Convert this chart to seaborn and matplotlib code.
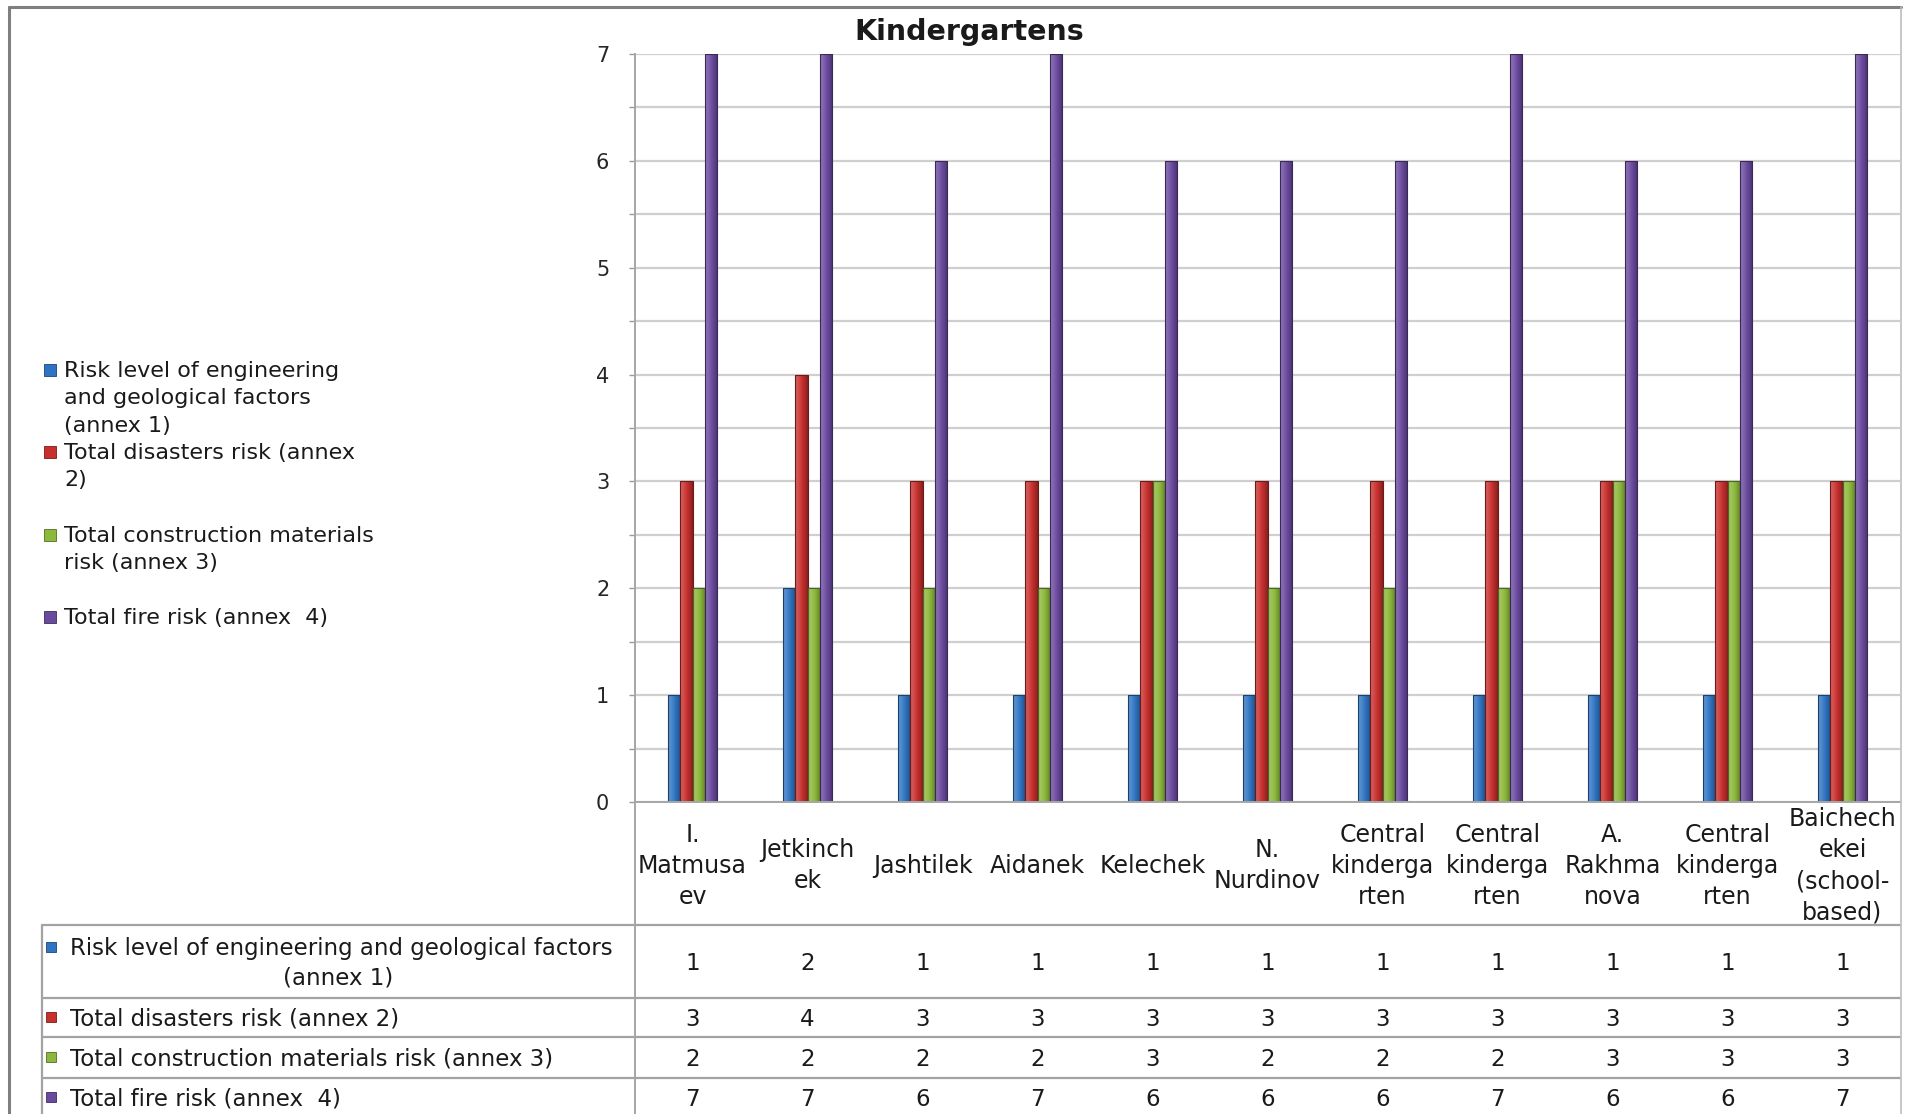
import numpy as np
import pandas as pd
import matplotlib
matplotlib.use("Agg")
import matplotlib.pyplot as plt
import seaborn as sns
from matplotlib.lines import Line2D
from matplotlib.patches import Rectangle
from matplotlib.ticker import FixedLocator
from matplotlib.transforms import blended_transform_factory
from matplotlib.colors import to_rgb

# ---- data ---------------------------------------------------------------
kindergartens = [
    "I.\nMatmusa\nev", "Jetkinch\nek", "Jashtilek", "Aidanek", "Kelechek",
    "N.\nNurdinov", "Central\nkinderga\nrten", "Central\nkinderga\nrten",
    "A.\nRakhma\nnova", "Central\nkinderga\nrten", "Baichech\nekei\n(school-\nbased)",
]
engineering_geology = [1, 2, 1, 1, 1, 1, 1, 1, 1, 1, 1]
disasters = [3, 4, 3, 3, 3, 3, 3, 3, 3, 3, 3]
construction_materials = [2, 2, 2, 2, 3, 2, 2, 2, 3, 3, 3]
fire = [7, 7, 6, 7, 6, 6, 6, 7, 6, 6, 7]

series_names = [
    "Risk level of engineering and geological factors (annex 1)",
    "Total disasters risk (annex 2)",
    "Total construction materials risk (annex 3)",
    "Total fire risk (annex  4)",
]
legend_labels = [
    "Risk level of engineering\nand geological factors\n(annex 1)",
    "Total disasters risk (annex\n2)",
    "Total construction materials\nrisk (annex 3)",
    "Total fire risk (annex  4)",
]
series_values = [engineering_geology, disasters, construction_materials, fire]
colors = ["#2F74C2", "#C8302E", "#8CB83B", "#6A4A9E"]

n = len(kindergartens)
df = pd.DataFrame({
    "pos": np.tile(np.arange(n), len(series_names)),
    "series": np.repeat(series_names, n),
    "value": np.concatenate(series_values),
})

# ---- figure -------------------------------------------------------------
sns.set_style("white")
plt.rcParams["font.family"] = ["DejaVu Sans"]
TXT = "#1a1a1a"

W, H = 1916, 1114
fig = plt.figure(figsize=(W / 100, H / 100), dpi=100)
fig.patch.set_facecolor("white")


def fx(px):
    return px / W


def fy(py):
    return 1 - py / H


AX_L, AX_R, AX_T, AX_B = 635, 1900, 54, 802
ax = fig.add_axes([fx(AX_L), fy(AX_B), fx(AX_R) - fx(AX_L), fy(AX_T) - fy(AX_B)])

sns.barplot(data=df, x="pos", y="value", hue="series", hue_order=series_names,
            palette=colors, width=0.43, gap=0, saturation=1, legend=False,
            linewidth=0.8, ax=ax)

ax.set_xlim(-0.5, n - 0.5)
ax.set_ylim(0, 7)


def mix(c, a):
    c = np.asarray(c)
    if a >= 0:
        return c + (1 - c) * a
    return c * (1 + a)


# glossy horizontal shading on every bar
t = np.linspace(0, 1, 40)
profile = 0.22 - 0.55 * t ** 1.5
for patch in list(ax.patches):
    h = patch.get_height()
    if h <= 0:
        continue
    x0, y0, w = patch.get_x(), patch.get_y(), patch.get_width()
    base = np.array(to_rgb(patch.get_facecolor()))
    grad = np.array([np.clip(mix(base, p), 0, 1) for p in profile])[None, :, :]
    im = ax.imshow(grad, extent=[x0, x0 + w, y0, y0 + h], aspect="auto",
                   interpolation="bilinear", zorder=1.0)
    im.set_clip_path(patch)
    patch.set_facecolor("none")
    patch.set_edgecolor(mix(base, -0.45))
    patch.set_zorder(1.1)

ax.set_xlim(-0.5, n - 0.5)
ax.set_ylim(0, 7)

# y axis: labelled integers, gridlines every half step
ax.set_yticks(range(8))
ax.yaxis.set_minor_locator(FixedLocator(np.arange(0.5, 7, 1)))
ax.grid(True, which="both", axis="y", color="#cfcfcf", linewidth=1.6)
ax.grid(False, axis="x")
ax.set_axisbelow(True)
ax.tick_params(axis="y", which="both", left=True, length=4.5, width=1,
               color="#9a9a9a", direction="out")
ax.tick_params(axis="y", which="major", labelsize=15, labelcolor="#262626", pad=14)

ax.set_xlabel("")
ax.set_ylabel("")
for side in ["top", "right"]:
    ax.spines[side].set_visible(False)
for side in ["left", "bottom"]:
    ax.spines[side].set_color("#a6a6a6")
    ax.spines[side].set_linewidth(1.4)

# category names under the axis, vertically centred in their band
ax.set_xticks(range(n))
ax.set_xticklabels(kindergartens)
ax.tick_params(axis="x", length=0, labelsize=17, labelcolor=TXT, pad=46)
plt.setp(ax.get_xticklabels(), va="center", linespacing=1.37)

fig.text(fx(969), fy(32), "Kindergartens", ha="center", va="center",
         fontsize=20.5, fontweight="bold", color=TXT)

# ---- legend on the left -------------------------------------------------
leg_rows = [370, 452, 535, 617]
for lab, col, yc in zip(legend_labels, colors, leg_rows):
    fig.patches.append(Rectangle((fx(44), fy(yc + 6)), fx(12), 12 / H,
                                 transform=fig.transFigure, facecolor=col,
                                 edgecolor=mix(to_rgb(col), -0.4), linewidth=0.6))
    fig.text(fx(64), fy(yc - 9), lab, ha="left", va="top", fontsize=16,
             color=TXT, linespacing=1.46)

# ---- data table ---------------------------------------------------------
LINE = "#a3a3a3"


def fline(xs, ys, color=LINE, lw=1.6):
    fig.add_artist(Line2D([fx(v) for v in xs], [fy(v) for v in ys],
                          transform=fig.transFigure, color=color, linewidth=lw))


TBL_L = 42
for yy in [925, 998, 1037, 1078]:
    fline([TBL_L, AX_R], [yy, yy])
fline([TBL_L, TBL_L], [925, H])
fline([AX_L, AX_L], [AX_B, H], color="#a6a6a6", lw=1.4)

row_centers = [964, 1019, 1059, 1099]
marker_rows = [947, 1017, 1057, 1097]
blend = blended_transform_factory(ax.transData, fig.transFigure)
for vals, yc in zip(series_values, row_centers):
    for i, v in enumerate(vals):
        ax.text(i, fy(yc), str(v), transform=blend, ha="center", va="center",
                fontsize=16.5, color=TXT, clip_on=False)

for col, ym in zip(colors, marker_rows):
    fig.patches.append(Rectangle((fx(46), fy(ym + 5)), fx(10), 10 / H,
                                 transform=fig.transFigure, facecolor=col,
                                 edgecolor=mix(to_rgb(col), -0.4), linewidth=0.6))

fig.text(fx(70), fy(949), "Risk level of engineering and geological factors",
         ha="left", va="center", fontsize=16.5, color=TXT)
fig.text(fx(338), fy(978), "(annex 1)", ha="center", va="center",
         fontsize=16.5, color=TXT)
for name, yc in zip(series_names[1:], row_centers[1:]):
    fig.text(fx(70), fy(yc), name, ha="left", va="center", fontsize=16.5, color=TXT)

# ---- outer frame --------------------------------------------------------
fline([9, 9], [7, H], color="#7f7f7f", lw=2.2)
fline([9, 1901], [7, 7], color="#7f7f7f", lw=2.2)
fline([1901, 1901], [7, H], color="#bdbdbd", lw=1.2)

fig.savefig("out.png", dpi=100, facecolor="white")
